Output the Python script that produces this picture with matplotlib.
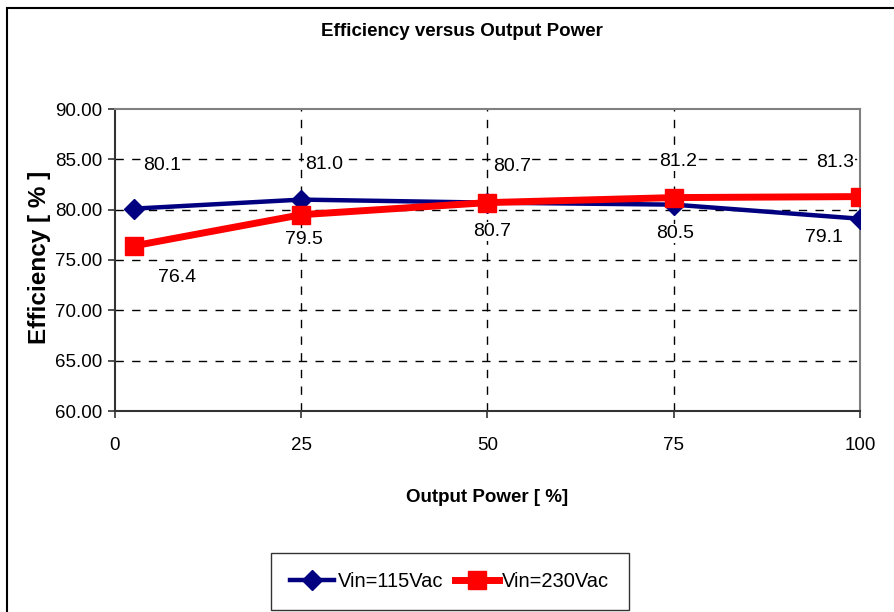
import matplotlib
matplotlib.use("Agg")
import matplotlib.pyplot as plt
from matplotlib.patches import Rectangle
from matplotlib.ticker import FormatStrFormatter

plt.rcParams["font.family"] = ["Liberation Sans Narrow", "Liberation Sans", "DejaVu Sans"]

output_power = [2.5, 25, 50, 75, 100]
eff_115 = [80.1, 81.0, 80.7, 80.5, 79.1]
eff_230 = [76.4, 79.5, 80.7, 81.2, 81.3]
x_ticks = [0, 25, 50, 75, 100]
y_ticks = [60, 65, 70, 75, 80, 85, 90]

# label offsets in pixels (dx, dy), picked by eye from the reference
off_115 = [(28, 43), (23, 35), (25, 36), (1, -29), (-36, -19)]
off_230 = [(43, -32), (3, -25), (5, -29), (4, 36), (-25, 34)]

fig = plt.figure(figsize=(8.95, 6.12), dpi=100)
fig.patches.append(Rectangle((7.5 / 895, -0.1), 1.2, 1.1 - 7.5 / 612,
                             transform=fig.transFigure, fill=False,
                             edgecolor="black", linewidth=1.5))

ax = fig.add_axes([115 / 895, 1 - 411 / 612, 745 / 895, 302 / 612])

l1, = ax.plot(output_power, eff_115, color="#000080", lw=3.2, marker="D",
              markersize=10, label="Vin=115Vac", zorder=3)
l2, = ax.plot(output_power, eff_230, color="#ff0000", lw=5, marker="s",
              markersize=13, label="Vin=230Vac", zorder=4)

box = dict(facecolor="white", edgecolor="none", pad=0.5)
for x, y, (dx, dy) in zip(output_power, eff_115, off_115):
    ax.annotate(f"{y:.1f}", (x, y), xytext=(dx, dy), textcoords="offset pixels",
                ha="center", va="center", fontsize=14, bbox=box)
for x, y, (dx, dy) in zip(output_power, eff_230, off_230):
    ax.annotate(f"{y:.1f}", (x, y), xytext=(dx, dy), textcoords="offset pixels",
                ha="center", va="center", fontsize=14, bbox=box)

ax.set_xlim(0, 100)
ax.set_ylim(60, 90)
ax.set_xticks(x_ticks)
ax.set_yticks(y_ticks)
ax.yaxis.set_major_formatter(FormatStrFormatter("%.2f"))
ax.tick_params(labelsize=13.5, length=5, width=1.2, color="#333333")
ax.tick_params(axis="x", pad=14)
ax.tick_params(axis="y", pad=4)
ax.grid(True, color="black", linestyle=(0, (6, 6)), linewidth=1)
# no dashed lines on top of the frame
for gl in ax.xaxis.get_gridlines()[::len(x_ticks) - 1]:
    gl.set_visible(False)
for gl in ax.yaxis.get_gridlines()[::len(y_ticks) - 1]:
    gl.set_visible(False)
for s in ["left", "bottom"]:
    ax.spines[s].set_color("#333333")
    ax.spines[s].set_linewidth(1.5)
for s in ["top", "right"]:
    ax.spines[s].set_color("#808080")
    ax.spines[s].set_linewidth(1.5)

fig.text(462 / 895, 1 - 32 / 612, "Efficiency versus Output Power",
         ha="center", va="center", fontsize=13.5, fontweight="bold")
fig.text(487 / 895, 1 - 497 / 612, "Output Power [ %]",
         ha="center", va="center", fontsize=13.5, fontweight="bold")
fig.text(40 / 895, 1 - 257 / 612, "Efficiency [ % ]", rotation=90,
         ha="center", va="center", fontsize=17.5, fontweight="bold",
         family=["Liberation Sans", "DejaVu Sans"])

fig.legend(handles=[l1, l2], loc="upper left", ncol=2,
           bbox_to_anchor=(271 / 895, 1 - 553 / 612), fontsize=14.5,
           frameon=True, fancybox=False, edgecolor="black", handlelength=2.2,
           handletextpad=0.15, columnspacing=0.6, borderpad=0.95,
           borderaxespad=0)

fig.savefig("out.png", dpi=100)
